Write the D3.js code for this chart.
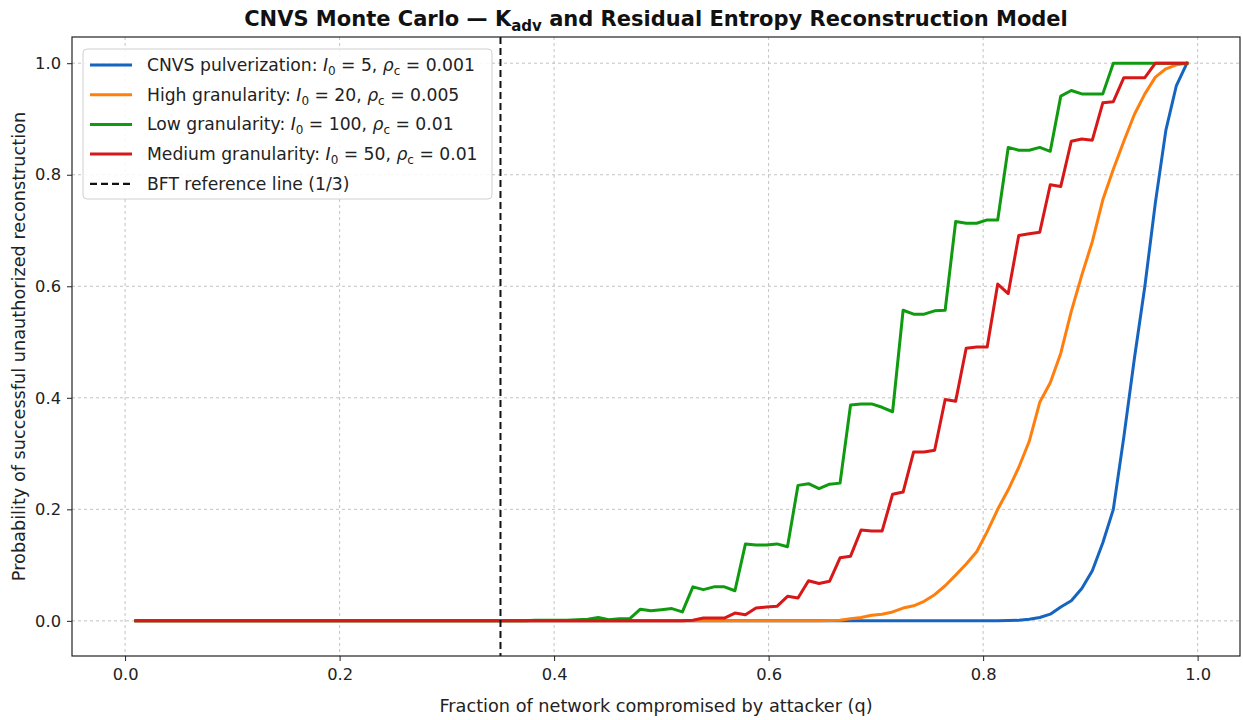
<!DOCTYPE html>
<html>
<head>
<meta charset="utf-8">
<script src="https://cdn.jsdelivr.net/npm/d3@7"></script>
<style>
  body { margin: 0; background: #fff; }
  svg { font-family: "DejaVu Sans", sans-serif; }
</style>
</head>
<body>
<div id="chart"></div>
<script>
// sampled attacker fractions q
const qValues = [
  0.0100, 0.0198, 0.0296, 0.0394, 0.0492, 0.0590, 0.0688, 0.0786, 0.0884, 0.0982,
  0.1080, 0.1178, 0.1276, 0.1374, 0.1472, 0.1570, 0.1668, 0.1766, 0.1864, 0.1962,
  0.2060, 0.2158, 0.2256, 0.2354, 0.2452, 0.2550, 0.2648, 0.2746, 0.2844, 0.2942,
  0.3040, 0.3138, 0.3236, 0.3334, 0.3432, 0.3530, 0.3628, 0.3726, 0.3824, 0.3922,
  0.4020, 0.4118, 0.4216, 0.4314, 0.4412, 0.4510, 0.4608, 0.4706, 0.4804, 0.4902,
  0.5000, 0.5098, 0.5196, 0.5294, 0.5392, 0.5490, 0.5588, 0.5686, 0.5784, 0.5882,
  0.5980, 0.6078, 0.6176, 0.6274, 0.6372, 0.6470, 0.6568, 0.6666, 0.6764, 0.6862,
  0.6960, 0.7058, 0.7156, 0.7254, 0.7352, 0.7450, 0.7548, 0.7646, 0.7744, 0.7842,
  0.7940, 0.8038, 0.8136, 0.8234, 0.8332, 0.8430, 0.8528, 0.8626, 0.8724, 0.8822,
  0.8920, 0.9018, 0.9116, 0.9214, 0.9312, 0.9410, 0.9508, 0.9606, 0.9704, 0.9802,
  0.9900
]

const pulverization = [
  0, 0, 0, 0, 0, 0, 0, 0, 0, 0,
  0, 0, 0, 0, 0, 0, 0, 0, 0, 0,
  0, 0, 0, 0, 0, 0, 0, 0, 0, 0,
  0, 0, 0, 0, 0, 0, 0, 0, 0, 0,
  0, 0, 0, 0, 0, 0, 0, 0, 0, 0,
  0, 0, 0, 0, 0, 0, 0, 0, 0, 0,
  0, 0, 0, 0, 0, 0, 0, 0, 0, 0,
  0, 0, 0, 0, 0, 0, 0, 0, 0, 0,
  0, 0, 0, 0.0005, 0.001, 0.003, 0.006, 0.012, 0.025, 0.036,
  0.058, 0.09, 0.14, 0.2, 0.33, 0.47, 0.6, 0.75, 0.88, 0.96,
  1.0
]

const highGranularity = [
  0, 0, 0, 0, 0, 0, 0, 0, 0, 0,
  0, 0, 0, 0, 0, 0, 0, 0, 0, 0,
  0, 0, 0, 0, 0, 0, 0, 0, 0, 0,
  0, 0, 0, 0, 0, 0, 0, 0, 0, 0,
  0, 0, 0, 0, 0, 0, 0, 0, 0, 0,
  0, 0, 0, 0, 0, 0, 0, 0, 0, 0,
  0, 0, 0, 0, 0, 0, 0.0005, 0.001, 0.004, 0.006,
  0.010, 0.012, 0.016, 0.023, 0.027, 0.035, 0.047, 0.063, 0.082, 0.102,
  0.124, 0.16, 0.2, 0.235, 0.275, 0.322, 0.392, 0.427, 0.48, 0.555,
  0.62, 0.68, 0.755, 0.81, 0.86, 0.908, 0.945, 0.975, 0.99, 0.997,
  1.0
]

const lowGranularity = [
  0, 0, 0, 0, 0, 0, 0, 0, 0, 0,
  0, 0, 0, 0, 0, 0, 0, 0, 0, 0,
  0, 0, 0, 0, 0, 0, 0, 0, 0, 0,
  0, 0, 0, 0, 0, 0, 0, 0, 0.001, 0.001,
  0.001, 0.001, 0.002, 0.003, 0.006, 0.002, 0.004, 0.004, 0.021, 0.018,
  0.020, 0.022, 0.016, 0.061, 0.056, 0.061, 0.061, 0.054, 0.138, 0.136,
  0.136, 0.138, 0.133, 0.243, 0.246, 0.237, 0.245, 0.247, 0.387, 0.389,
  0.389, 0.383, 0.375, 0.557, 0.550, 0.550, 0.556, 0.557, 0.716, 0.713,
  0.713, 0.719, 0.719, 0.849, 0.844, 0.844, 0.849, 0.842, 0.941, 0.951,
  0.945, 0.945, 0.945, 1, 1, 1, 1, 1, 1, 1,
  1
]

const mediumGranularity = [
  0, 0, 0, 0, 0, 0, 0, 0, 0, 0,
  0, 0, 0, 0, 0, 0, 0, 0, 0, 0,
  0, 0, 0, 0, 0, 0, 0, 0, 0, 0,
  0, 0, 0, 0, 0, 0, 0, 0, 0, 0,
  0, 0, 0, 0, 0, 0, 0, 0, 0, 0,
  0, 0, 0, 0.001, 0.005, 0.005, 0.005, 0.014, 0.011, 0.023,
  0.025, 0.026, 0.044, 0.041, 0.072, 0.067, 0.071, 0.113, 0.116, 0.163,
  0.161, 0.161, 0.227, 0.231, 0.303, 0.303, 0.306, 0.397, 0.394, 0.489,
  0.491, 0.491, 0.604, 0.587, 0.691, 0.694, 0.697, 0.782, 0.779, 0.860,
  0.864, 0.862, 0.929, 0.931, 0.974, 0.974, 0.974, 1, 1, 1,
  1
]

const seriesNames = ["CNVS pulverization", "High granularity", "Low granularity", "Medium granularity"]
const seriesL0 = ["5", "20", "100", "50"]
const seriesRho = ["0.001", "0.005", "0.01", "0.01"]
const seriesColors = ["#1565c0", "#ff7f0e", "#109a10", "#d81818"]
const seriesValues = [pulverization, highGranularity, lowGranularity, mediumGranularity]

const bftQ = 0.35
const bftLabel = "BFT reference line (1/3)"

const xTicks = [0, 0.2, 0.4, 0.6, 0.8, 1.0]
const yTicks = [0, 0.2, 0.4, 0.6, 0.8, 1.0]

const width = 1243
const height = 720
const plot = { left: 72, right: 1240, top: 37, bottom: 656 }

const svg = d3.select("#chart")
  .append("svg")
  .attr("width", width)
  .attr("height", height)

const x = d3.scaleLinear().domain([-0.0495, 1.0395]).range([plot.left, plot.right])
const y = d3.scaleLinear().domain([-0.063, 1.047]).range([plot.bottom, plot.top])

// grid
const grid = svg.append("g")
  .attr("stroke", "#b4b4b4")
  .attr("stroke-width", 0.8)
  .attr("stroke-dasharray", "3,3")
grid.selectAll("line.gx")
  .data(xTicks)
  .join("line")
  .attr("x1", d => x(d)).attr("x2", d => x(d))
  .attr("y1", plot.top).attr("y2", plot.bottom)
grid.selectAll("line.gy")
  .data(yTicks)
  .join("line")
  .attr("class", "gy")
  .attr("x1", plot.left).attr("x2", plot.right)
  .attr("y1", d => y(d)).attr("y2", d => y(d))

// axes
const xAxis = svg.append("g")
  .attr("transform", `translate(0,${plot.bottom})`)
  .call(d3.axisBottom(x).tickValues(xTicks).tickFormat(d3.format(".1f")).tickSize(5).tickPadding(7))
const yAxis = svg.append("g")
  .attr("transform", `translate(${plot.left},0)`)
  .call(d3.axisLeft(y).tickValues(yTicks).tickFormat(d3.format(".1f")).tickSize(5).tickPadding(6))
;[xAxis, yAxis].forEach(g => {
  g.select(".domain").remove()
  g.selectAll(".tick line").attr("stroke", "#222").attr("stroke-width", 1)
  g.selectAll(".tick text")
    .attr("fill", "#222")
    .attr("font-size", 16.3)
    .attr("font-family", "DejaVu Sans")
})

// lines
const line = d3.line()
  .x((d, i) => x(qValues[i]))
  .y(d => y(d))

svg.append("g")
  .selectAll("path")
  .data(seriesValues)
  .join("path")
  .attr("d", d => line(d))
  .attr("fill", "none")
  .attr("stroke", (d, i) => seriesColors[i])
  .attr("stroke-width", 3)
  .attr("stroke-linejoin", "round")
  .attr("stroke-linecap", "square")

// BFT reference
svg.append("line")
  .attr("x1", x(bftQ)).attr("x2", x(bftQ))
  .attr("y1", plot.top).attr("y2", plot.bottom)
  .attr("stroke", "#111")
  .attr("stroke-width", 2)
  .attr("stroke-dasharray", "7,4")

// frame
svg.append("rect")
  .attr("x", plot.left).attr("y", plot.top)
  .attr("width", plot.right - plot.left)
  .attr("height", plot.bottom - plot.top)
  .attr("fill", "none")
  .attr("stroke", "#222")
  .attr("stroke-width", 1.2)

// title
const title = svg.append("text")
  .attr("x", (plot.left + plot.right) / 2)
  .attr("y", 26)
  .attr("text-anchor", "middle")
  .attr("font-size", 21)
  .attr("font-weight", "bold")
  .attr("fill", "#111")
title.append("tspan").text("CNVS Monte Carlo \u2014 K")
title.append("tspan").attr("dy", 5).attr("font-size", 15).text("adv")
title.append("tspan").attr("dy", -5).text(" and Residual Entropy Reconstruction Model")

// axis labels
svg.append("text")
  .attr("x", (plot.left + plot.right) / 2)
  .attr("y", 712)
  .attr("text-anchor", "middle")
  .attr("font-size", 17.7)
  .attr("fill", "#222")
  .text("Fraction of network compromised by attacker (q)")

svg.append("text")
  .attr("transform", `translate(25,${(plot.top + plot.bottom) / 2}) rotate(-90)`)
  .attr("text-anchor", "middle")
  .attr("font-size", 17.7)
  .attr("fill", "#222")
  .text("Probability of successful unauthorized reconstruction")

// legend
const legend = svg.append("g").attr("transform", `translate(${plot.left + 11},${plot.top + 12})`)
legend.append("rect")
  .attr("width", 409).attr("height", 150)
  .attr("rx", 4)
  .attr("fill", "#fff").attr("fill-opacity", 0.85)
  .attr("stroke", "#d0d0d0")

const rowY = i => 16 + i * 29.7
seriesNames.forEach((name, i) => {
  legend.append("line")
    .attr("x1", 7).attr("x2", 49)
    .attr("y1", rowY(i)).attr("y2", rowY(i))
    .attr("stroke", seriesColors[i])
    .attr("stroke-width", 3)
  const t = legend.append("text")
    .attr("x", 64).attr("y", rowY(i) + 6)
    .attr("font-size", 17.2)
    .attr("fill", "#222")
  t.append("tspan").text(`${name}: `)
  t.append("tspan").attr("font-style", "italic").text("I")
  t.append("tspan").attr("dy", 4).attr("font-size", 12).text("0")
  t.append("tspan").attr("dy", -4).text(` = ${seriesL0[i]}, `)
  t.append("tspan").attr("font-style", "italic").text("\u03c1")
  t.append("tspan").attr("dy", 4).attr("font-size", 12).text("c")
  t.append("tspan").attr("dy", -4).text(` = ${seriesRho[i]}`)
})
legend.append("line")
  .attr("x1", 7).attr("x2", 49)
  .attr("y1", rowY(4)).attr("y2", rowY(4))
  .attr("stroke", "#111")
  .attr("stroke-width", 2.2)
  .attr("stroke-dasharray", "7,4")
legend.append("text")
  .attr("x", 64).attr("y", rowY(4) + 6)
  .attr("font-size", 17.2)
  .attr("fill", "#222")
  .text(bftLabel)
</script>
</body>
</html>
